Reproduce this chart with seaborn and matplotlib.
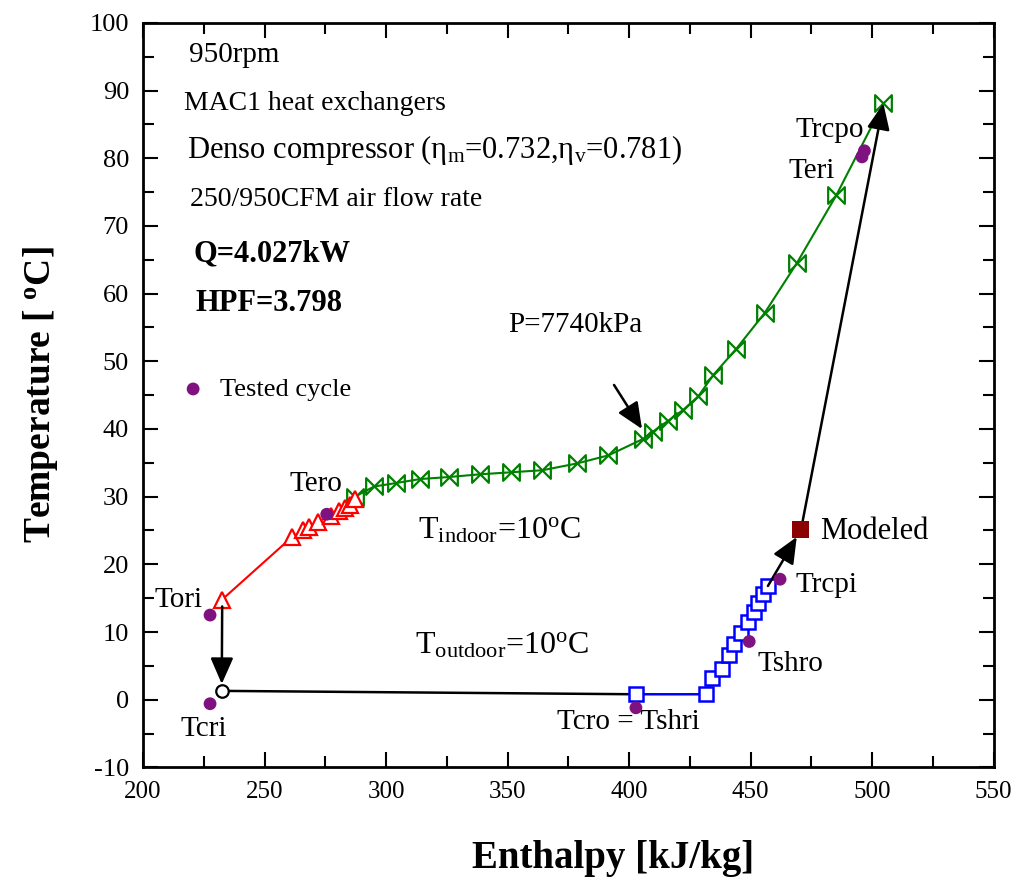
import numpy as np
import matplotlib
matplotlib.use('Agg')
import matplotlib.pyplot as plt
from matplotlib.path import Path
from matplotlib.ticker import MultipleLocator
import seaborn as sns

# ---- data (enthalpy kJ/kg, temperature C) ----
# gas cooler, P=7740kPa
green_h = [287.2, 295.1, 304.0, 314.0, 325.9, 338.7, 351.4, 364.3, 378.5, 391.5, 405.6,
           409.8, 416.0, 422.2, 428.4, 434.7, 444.0, 455.7, 469.0, 485.2, 504.6]
green_T = [30.0, 31.5, 32.0, 32.6, 32.9, 33.3, 33.6, 33.9, 34.9, 36.1, 38.5,
           39.6, 41.2, 42.8, 44.8, 48.0, 51.8, 57.1, 64.5, 74.5, 88.1]
# internal heat exchanger, high side
red_h = [232.6, 261.5, 266.0, 268.3, 272.1, 277.2, 280.8, 283.1, 285.2, 287.2]
red_T = [14.8, 24.1, 25.0, 25.5, 26.3, 27.2, 27.9, 28.3, 28.8, 29.7]
# suction side
blue_h = [402.8, 431.7, 434.3, 438.3, 440.9, 443.2, 446.0, 448.8, 451.2, 453.0, 455.0, 457.1]
blue_T = [0.8, 0.8, 3.2, 4.6, 6.6, 8.2, 9.8, 11.5, 13.0, 14.3, 15.6, 16.8]
# evaporator inlet and compressor inlet (modeled)
evap_in_h, evap_in_T = 232.4, 1.3
model_h, model_T = 470.7, 25.1
# tested cycle points
test_names = ['Tori', 'Tcri', 'Tero', 'Tcro = Tshri', 'Tshro', 'Trcpi', 'Trcpo', 'Teri']
test_h = [227.6, 227.6, 275.6, 402.8, 449.4, 462.1, 496.8, 495.8]
test_T = [12.5, -0.6, 27.4, -1.2, 8.6, 17.8, 81.1, 80.2]

sns.set_style('ticks')
plt.rcParams['font.family'] = ['Liberation Serif', 'DejaVu Serif']
plt.rcParams['mathtext.fontset'] = 'custom'
plt.rcParams['mathtext.rm'] = 'Liberation Serif'
plt.rcParams['mathtext.it'] = 'Liberation Serif:italic'
plt.rcParams['mathtext.bf'] = 'Liberation Serif:bold'
plt.rcParams['axes.unicode_minus'] = False
for key in ['text.color', 'axes.labelcolor', 'xtick.color', 'ytick.color', 'axes.edgecolor']:
    plt.rcParams[key] = 'black'

bowtie = Path([(-1, 1), (-1, -1), (1, 1), (1, -1), (-1, 1)],
              [Path.MOVETO, Path.LINETO, Path.LINETO, Path.LINETO, Path.CLOSEPOLY])

fig = plt.figure(figsize=(10.14, 8.8), dpi=100)
ax = fig.add_axes([0.141, 0.128, 0.839, 0.846])

# evaporator line
sns.lineplot(x=[evap_in_h, blue_h[0]], y=[evap_in_T, blue_T[0]], sort=False, estimator=None,
             color='black', lw=1.8, ax=ax)
sns.lineplot(x=green_h, y=green_T, sort=False, estimator=None, color='green', lw=1.5,
             marker=bowtie, markersize=12, markerfacecolor='none', markeredgecolor='green',
             markeredgewidth=1.6, ax=ax)
sns.lineplot(x=red_h, y=red_T, sort=False, estimator=None, color='red', lw=1.5,
             marker='^', markersize=11, markerfacecolor='white', markeredgecolor='red',
             markeredgewidth=1.6, ax=ax)
sns.lineplot(x=blue_h, y=blue_T, sort=False, estimator=None, color='blue', lw=1.8,
             marker='s', markersize=10, markerfacecolor='white', markeredgecolor='blue',
             markeredgewidth=1.8, ax=ax)
sns.lineplot(x=[evap_in_h], y=[evap_in_T], estimator=None, marker='o', markersize=9,
             markerfacecolor='white', markeredgecolor='black', markeredgewidth=1.6, ax=ax)


def arrow(x0, y0, x1, y1, sa=0, sb=0):
    ax.annotate('', xy=(x1, y1), xytext=(x0, y0),
                arrowprops=dict(arrowstyle='-|>,head_length=0.8,head_width=0.35',
                                mutation_scale=20, color='black', lw=1.8,
                                shrinkA=sa, shrinkB=sb), zorder=4)


arrow(red_h[0], red_T[0], evap_in_h, evap_in_T, sa=5, sb=5)
arrow(blue_h[-1], blue_T[-1], model_h, model_T, sa=0, sb=6)
arrow(model_h, model_T, green_h[-1], green_T[-1], sa=0, sb=0)
arrow(393.8, 46.5, 405.3, 40.0)

sns.scatterplot(x=[model_h], y=[model_T], marker='s', color='#8B0000', s=150,
                edgecolor='none', ax=ax, zorder=6)
sns.scatterplot(x=test_h, y=test_T, color='#7F1280', s=85, edgecolor='none',
                label='Tested cycle', ax=ax, zorder=6)

ax.legend(loc='center left', bbox_to_anchor=(0.045, 0.508), frameon=False, fontsize=19,
          handlelength=0.9, handletextpad=0.55, borderpad=0, borderaxespad=0)

# labels of tested points
lab_pos = {'Tori': (204.9, 14.8), 'Tcri': (215.6, -4.3), 'Tero': (260.1, 31.9),
           'Tcro = Tshri': (370.4, -3.3), 'Tshro': (452.7, 5.3), 'Trcpi': (468.3, 16.9),
           'Trcpo': (468.3, 84.1), 'Teri': (465.4, 78.1)}
for name in test_names:
    ax.text(*lab_pos[name], name, fontsize=21, va='center', ha='left')
ax.text(478.6, 24.9, 'Modeled', fontsize=22, va='center', ha='left')
ax.text(350.2, 55.3, 'P=7740kPa', fontsize=21, va='center', ha='left')
ax.text(313.2, 25.0, r'T$_{\mathrm{indoor}}$=10$^{\mathrm{o}}$C', fontsize=23, va='center')
ax.text(311.9, 7.9, r'T$_{\mathrm{outdoor}}$=10$^{\mathrm{o}}$C', fontsize=23, va='center')

# info block
ax.text(218.9, 95.2, '950rpm', fontsize=21, va='center')
ax.text(216.9, 88.1, 'MAC1 heat exchangers', fontsize=20, va='center')
ax.text(218.1, 81.2, r'Denso compressor (η$_{\mathrm{m}}$=0.732,η$_{\mathrm{v}}$=0.781)',
        fontsize=22, va='center')
ax.text(219.3, 73.9, '250/950CFM air flow rate', fontsize=20, va='center')
ax.text(220.6, 65.8, 'Q=4.027kW', fontsize=22, fontweight='bold', va='center')
ax.text(221.8, 58.6, 'HPF=3.798', fontsize=22, fontweight='bold', va='center')

ax.set_xlim(200, 550)
ax.set_ylim(-10, 100)
ax.set_xticks(np.arange(200, 551, 50))
ax.xaxis.set_minor_locator(MultipleLocator(25))
ax.yaxis.set_major_locator(MultipleLocator(10))
ax.yaxis.set_minor_locator(MultipleLocator(5))
ax.tick_params(which='both', direction='in', top=True, right=True, width=1.5)
ax.tick_params(which='major', length=11, pad=10)
ax.tick_params(axis='x', which='major', labelsize=18)
ax.tick_params(axis='y', which='major', labelsize=19)
ax.tick_params(which='minor', length=8)
for sp in ax.spines.values():
    sp.set_linewidth(2)

ax.set_xlabel('Enthalpy [kJ/kg]', fontsize=28, fontweight='bold')
ax.set_ylabel(r'Temperature [ $^{\mathbf{o}}$C]', fontsize=27, fontweight='bold')
ax.xaxis.set_label_coords(0.552, -0.098)
ax.yaxis.set_label_coords(-0.097, 0.5)

fig.savefig('out.png', dpi=100)
